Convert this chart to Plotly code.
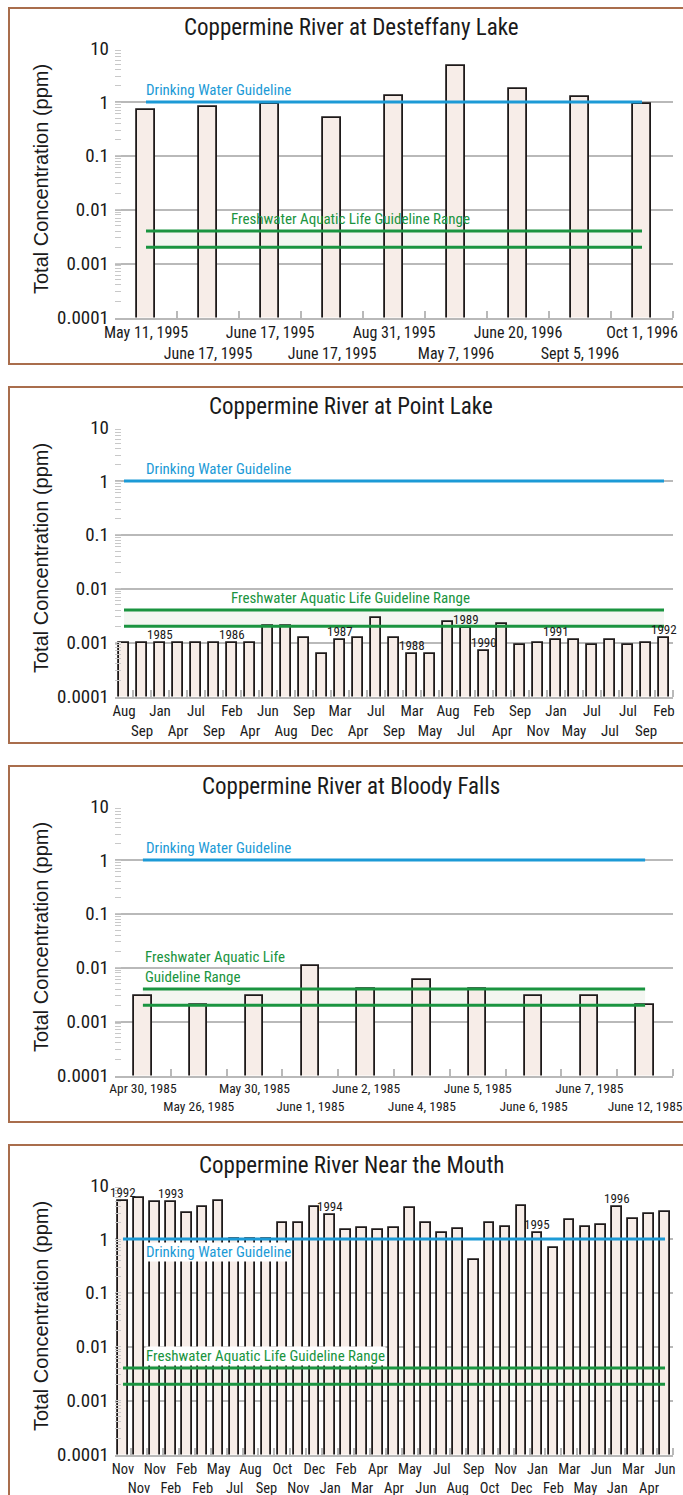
import math
import plotly.graph_objects as go
from plotly.subplots import make_subplots

W, H = 683, 1495

# Coppermine River at Desteffany Lake
desteffany_dates = ["May 11, 1995", "June 17, 1995", "June 17, 1995", "June 17, 1995",
                    "Aug 31, 1995", "May 7, 1996", "June 20, 1996", "Sept 5, 1996", "Oct 1, 1996"]
desteffany_ppm = [0.71, 0.81, 0.93, 0.51, 1.31, 4.6, 1.75, 1.22, 0.92]

# Coppermine River at Point Lake
point_months = ["Aug", "Sep", "Jan", "Apr", "Jul", "Sep", "Feb", "Apr", "Jun", "Aug", "Sep",
                "Dec", "Mar", "Apr", "Jul", "Sep", "Mar", "May", "Aug", "Jul", "Feb", "Apr",
                "Sep", "Nov", "Jan", "May", "Jul", "Jul", "Jul", "Sep", "Feb"]
point_ppm = [0.001, 0.001, 0.001, 0.001, 0.001, 0.001, 0.001, 0.001, 0.002, 0.002, 0.0012,
             0.00061, 0.0011, 0.0012, 0.0028, 0.0012, 0.0006, 0.0006, 0.0024, 0.0019, 0.0007,
             0.0022, 0.0009, 0.001, 0.0011, 0.0011, 0.0009, 0.0011, 0.0009, 0.001, 0.0012]
point_year_idx = [2, 6, 12, 16, 19, 20, 24, 30]
point_year_txt = ["1985", "1986", "1987", "1988", "1989", "1990", "1991", "1992"]

# Coppermine River at Bloody Falls
bloody_dates = ["Apr 30, 1985", "May 26, 1985", "May 30, 1985", "June 1, 1985", "June 2, 1985",
                "June 4, 1985", "June 5, 1985", "June 6, 1985", "June 7, 1985", "June 12, 1985"]
bloody_ppm = [0.003, 0.002, 0.003, 0.0109, 0.004, 0.0059, 0.004, 0.003, 0.003, 0.002]

# Coppermine River Near the Mouth
mouth_months = ["Nov", "Nov", "Nov", "Feb", "Feb", "Feb", "May", "Jul", "Aug", "Sep", "Oct", "Nov",
                "Dec", "Jan", "Feb", "Mar", "Apr", "Apr", "May", "Jun", "Jul", "Aug", "Sep", "Oct",
                "Nov", "Dec", "Jan", "Feb", "Mar", "May", "Jun", "Jan", "Mar", "Apr", "Jun"]
mouth_ppm = [5.0, 5.8, 4.9, 4.9, 3.0, 4.0, 5.0, 1.0, 1.0, 1.0, 2.0, 2.0, 3.9, 2.85, 1.5, 1.6,
             1.5, 1.6, 3.8, 2.0, 1.28, 1.52, 0.4, 2.0, 1.7, 4.1, 1.27, 0.69, 2.3, 1.7, 1.8,
             3.9, 2.4, 2.9, 3.2]
mouth_year_idx = [0, 3, 13, 26, 31]
mouth_year_txt = ["1992", "1993", "1994", "1995", "1996"]

drinking_guideline = 1.0
aquatic_low, aquatic_high = 0.002, 0.004

y_tickvals = [0.0001, 0.001, 0.01, 0.1, 1, 10]
y_ticktext = ["0.0001", "0.001", "0.01", "0.1", "1", "10"]

# estilo
NARROW = "Roboto Condensed, Liberation Sans Narrow, sans-serif"
SANS = "Liberation Sans, Arial, sans-serif"
INK = "#1a1a1a"
BAR = "#f7ede8"
EDGE = "#1e1a1a"
GRID = "#b9b9b9"
MINOR = "#c8c8c8"
BLUE = "#1c9ad6"
GREEN = "#1a9440"
BAND = "#f3f6f1"
BORDER = "#a96d4c"

tops = [8, 387, 766, 1145]
X0, X1 = 115, 673

panels = [
    dict(title="Coppermine River at Desteffany Lake", labels=desteffany_dates, values=desteffany_ppm,
         yidx=[], ytxt=[], bar_w=0.28, tick_size=16, fw_text="Freshwater Aquatic Life Guideline Range",
         fw_x=229.5, dw_below=False, label_bg=None),
    dict(title="Coppermine River at Point Lake", labels=point_months, values=point_ppm,
         yidx=point_year_idx, ytxt=point_year_txt, bar_w=0.6, tick_size=15,
         fw_text="Freshwater Aquatic Life Guideline Range", fw_x=229.5, dw_below=False, label_bg=None),
    dict(title="Coppermine River at Bloody Falls", labels=bloody_dates, values=bloody_ppm,
         yidx=[], ytxt=[], bar_w=0.31, tick_size=13.5, fw_text="Freshwater Aquatic Life<br>Guideline Range",
         fw_x=144, dw_below=False, label_bg=None),
    dict(title="Coppermine River Near the Mouth", labels=mouth_months, values=mouth_ppm,
         yidx=mouth_year_idx, ytxt=mouth_year_txt, bar_w=0.6, tick_size=14.5,
         fw_text="Freshwater Aquatic Life Guideline Range", fw_x=145, dw_below=True, label_bg="white"),
]

fig = make_subplots(rows=4, cols=1)

for k, p in enumerate(panels):
    r = k + 1
    top = tops[k]
    n = len(p["values"])
    xs = list(range(n))
    xa = "x" if r == 1 else f"x{r}"
    ya = "y" if r == 1 else f"y{r}"

    fig.add_trace(go.Bar(x=xs, y=p["values"], width=p["bar_w"],
                         marker=dict(color=BAR, line=dict(color=EDGE, width=1.8)),
                         hovertemplate="%{y} ppm<extra></extra>", showlegend=False),
                  row=r, col=1)

    ticktext = [lab if i % 2 == 0 else "<br>" + lab for i, lab in enumerate(p["labels"])]
    fig.update_xaxes(row=r, col=1, domain=[X0 / W, X1 / W], range=[-0.5, n - 0.5], automargin=False,
                     tickmode="array", tickvals=xs, ticktext=ticktext, ticks="", tickangle=0,
                     showgrid=False, zeroline=False, showline=True, linecolor=GRID, linewidth=1.5,
                     tickfont=dict(family=NARROW, size=p["tick_size"], color=INK),
                     minor=dict(tickmode="array", tickvals=[i + 0.5 for i in xs], ticks="inside",
                                ticklen=7, tickcolor=GRID, tickwidth=1.5))
    fig.update_yaxes(row=r, col=1, type="log", domain=[1 - (top + 309.5) / H, 1 - (top + 40) / H],
                     range=[-4.003, 1.003], tickmode="array", tickvals=y_tickvals, ticktext=y_ticktext,
                     automargin=False, showgrid=True, gridcolor=GRID, gridwidth=1.5, ticks="inside",
                     ticklen=6, tickcolor=MINOR, showline=False, zeroline=False, ticklabelstandoff=5,
                     minor=dict(ticks="inside", ticklen=6, tickcolor=MINOR, dtick="D1", showgrid=False),
                     tickfont=dict(family=NARROW, size=19, color=INK))

    # marco del panel
    fig.add_shape(type="rect", xref="paper", yref="paper", x0=9 / W, x1=700 / W,
                  y0=1 - (top + 356) / H, y1=1 - top / H,
                  line=dict(color=BORDER, width=2), fillcolor="rgba(0,0,0,0)", layer="below")
    # banda de la guía acuática
    fig.add_shape(type="rect", xref=xa, yref=ya, x0=0, x1=n - 1, y0=aquatic_low, y1=aquatic_high,
                  fillcolor=BAND, line_width=0, layer="below")
    for v, c in [(drinking_guideline, BLUE), (aquatic_high, GREEN), (aquatic_low, GREEN)]:
        fig.add_shape(type="line", xref=xa, yref=ya, x0=0, x1=n - 1, y0=v, y1=v,
                      line=dict(color=c, width=3), layer="above")

    # títulos
    fig.add_annotation(xref="paper", yref="paper", x=351 / W, y=1 - (top + 20) / H,
                       text=p["title"], showarrow=False, xanchor="center", yanchor="middle",
                       font=dict(family=NARROW, size=23, color=INK))
    fig.add_annotation(xref="paper", yref="paper", x=41 / W, y=1 - (top + 171) / H,
                       text="Total Concentration (ppm)", textangle=-90, showarrow=False,
                       xanchor="center", yanchor="middle",
                       font=dict(family=SANS, size=20, color=INK))

    # etiquetas de guías
    dom = (X1 - X0)
    fig.add_annotation(xref=f"{xa} domain", yref=ya, x=(145 - X0) / dom,
                       y=math.log10(drinking_guideline),
                       text="Drinking Water Guideline", showarrow=False, xanchor="left",
                       yanchor="top" if p["dw_below"] else "bottom",
                       yshift=-3 if p["dw_below"] else 2, bgcolor=p["label_bg"], borderpad=0,
                       font=dict(family=NARROW, size=15, color=BLUE))
    fig.add_annotation(xref=f"{xa} domain", yref=ya, x=(p["fw_x"] - X0) / dom,
                       y=math.log10(aquatic_high), text=p["fw_text"], showarrow=False,
                       xanchor="left", yanchor="bottom", yshift=2, align="left",
                       bgcolor=p["label_bg"], borderpad=0,
                       font=dict(family=NARROW, size=15, color=GREEN))

    # años
    for i, t in zip(p["yidx"], p["ytxt"]):
        fig.add_annotation(xref=xa, yref=ya, x=i, y=math.log10(p["values"][i]), text=t,
                           showarrow=False, yanchor="bottom", yshift=-1,
                           font=dict(family=NARROW, size=13, color=INK))

fig.update_layout(width=W, height=H, margin=dict(l=0, r=0, t=0, b=0),
                  plot_bgcolor="white", paper_bgcolor="white", showlegend=False,
                  bargap=0)

fig.write_html("out.html", config={"displayModeBar": False},
               post_script="document.body.style.margin='0px';")
